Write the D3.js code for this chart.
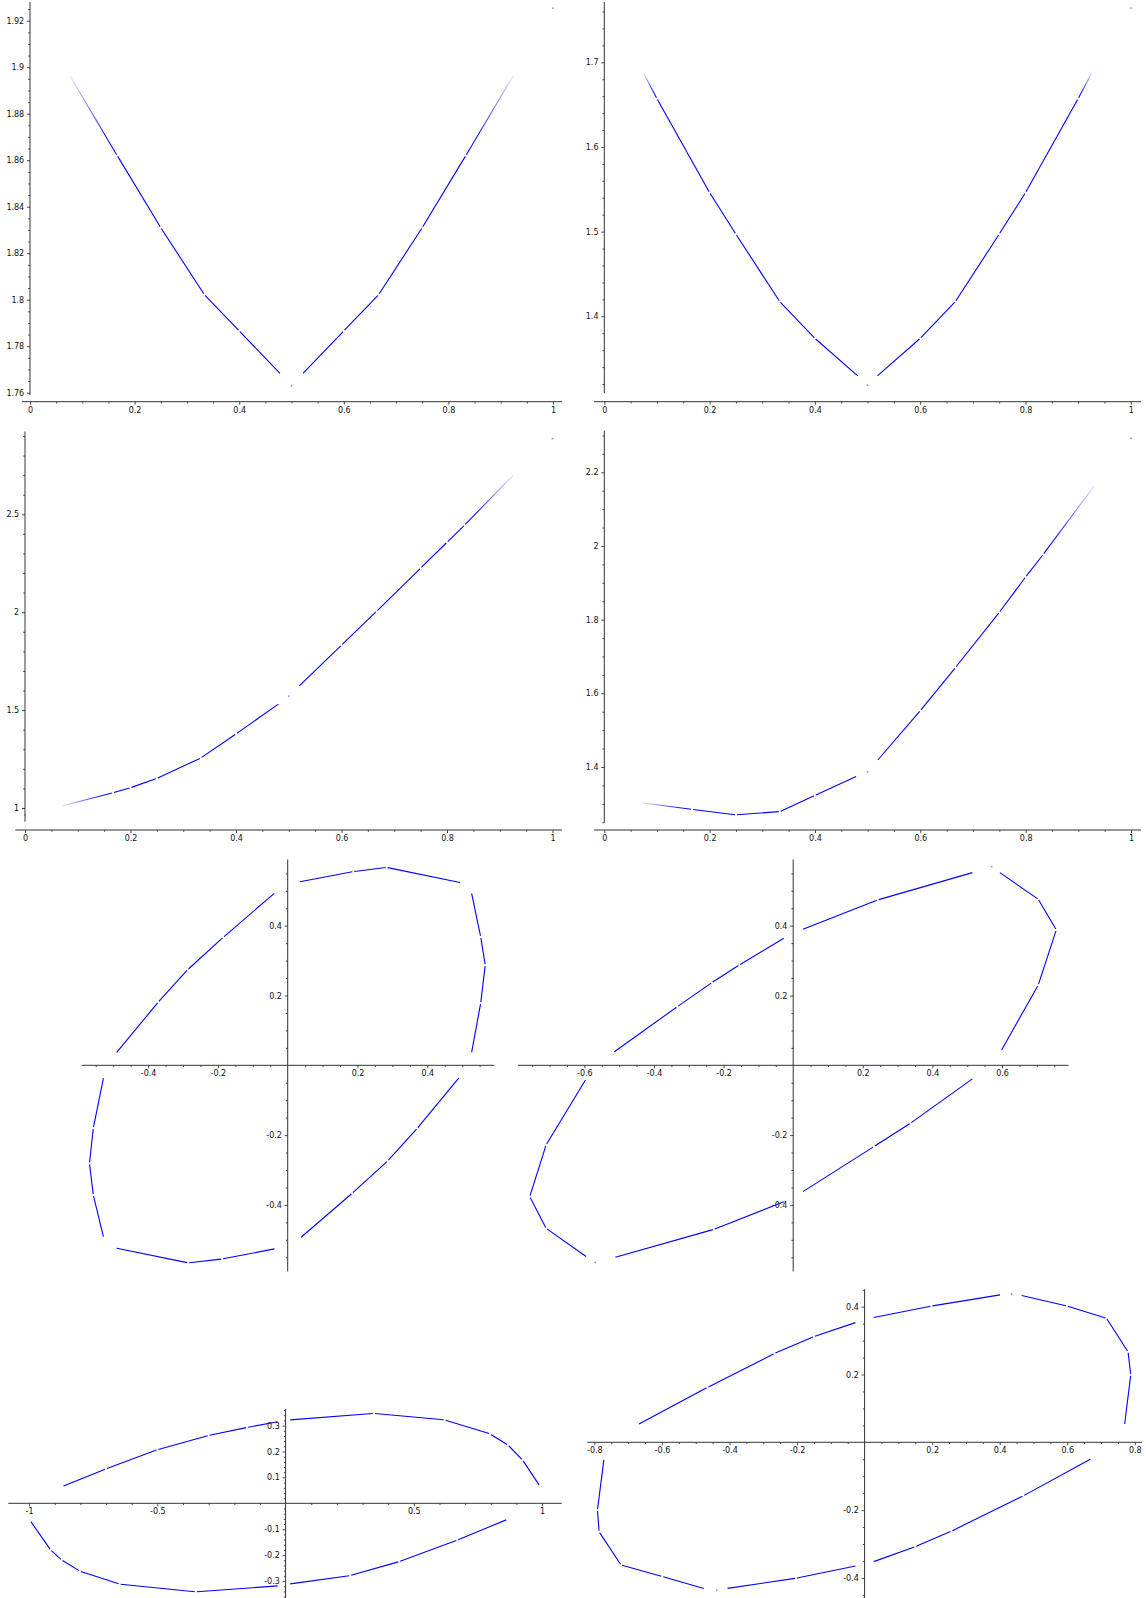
<!DOCTYPE html>
<html>
<head>
<meta charset="utf-8">
<script src="https://cdn.jsdelivr.net/npm/d3@7"></script>
<style>
	body { margin: 0; background: #fff; }
	svg { display: block; }
</style>
</head>
<body>
<svg id="chart"></svg>
<script>
// ---- tick labels ----
const ticks01 = [0, 0.2, 0.4, 0.6, 0.8, 1];
const p1YTicks = [1.76, 1.78, 1.8, 1.82, 1.84, 1.86, 1.88, 1.9, 1.92];
const p2YTicks = [1.4, 1.5, 1.6, 1.7];
const p3YTicks = [1, 1.5, 2, 2.5];
const p4YTicks = [1.4, 1.6, 1.8, 2, 2.2];
const ticksPm04 = [-0.4, -0.2, 0.2, 0.4];
const ticksPm06 = [-0.6, -0.4, -0.2, 0.2, 0.4, 0.6];
const ticksPm08 = [-0.8, -0.6, -0.4, -0.2, 0.2, 0.4, 0.6, 0.8];
const p7XTicks = [-1, -0.5, 0.5, 1];
const p7YTicks = [-0.3, -0.2, -0.1, 0.1, 0.2, 0.3];

// ---- curves: each panel is a list of branches, each branch a list of [x, y] ----
const p1Branches = [
	[[0.0765, 1.8962], [0.1667, 1.862], [0.25, 1.831], [0.3333, 1.8022], [0.4, 1.7866], [0.478, 1.7683]],
	[[0.522, 1.7683], [0.6, 1.7866], [0.6667, 1.8022], [0.75, 1.831], [0.8333, 1.862], [0.9235, 1.8962]],
];
const p1Dots = [[0.5, 1.763], [1, 1.9254]];

const p2Branches = [
	[[0.074, 1.6877], [0.1, 1.657], [0.2, 1.546], [0.25, 1.497], [0.3333, 1.4173], [0.4, 1.374], [0.4813, 1.3296]],
	[[0.5187, 1.3296], [0.6, 1.374], [0.6667, 1.4173], [0.75, 1.497], [0.8, 1.546], [0.9, 1.657], [0.926, 1.6877]],
];
const p2Dots = [[0.5, 1.3186], [1, 1.764]];

const p3Branches = [
	[[0.0714, 1.0117], [0.1667, 1.078], [0.2, 1.1036], [0.25, 1.1515], [0.3333, 1.2555], [0.4, 1.378], [0.4803, 1.5306]],
	[[0.52, 1.624], [0.6, 1.832], [0.6667, 2.005], [0.75, 2.225], [0.8, 2.357], [0.8333, 2.445], [0.925, 2.698]],
];
const p3Dots = [[0, 0.964], [0.5, 1.571], [1, 2.886]];

const p4Branches = [
	[[0.071, 1.303], [0.1667, 1.285], [0.25, 1.27], [0.3333, 1.279], [0.4, 1.323], [0.478, 1.374]],
	[[0.5193, 1.419], [0.6, 1.553], [0.6667, 1.67], [0.75, 1.82], [0.8, 1.916], [0.8333, 1.977], [0.929, 2.161]],
];
const p4Dots = [[0.5, 1.387], [1, 2.292]];

const p5Branches = [
	[[-0.49, 0.037], [-0.371, 0.181], [-0.2866, 0.274], [-0.1845, 0.3668], [-0.0383, 0.4928]],
	[[0.0352, 0.526], [0.188, 0.555], [0.2836, 0.567], [0.4937, 0.524]],
	[[0.527, 0.4928], [0.553, 0.368], [0.566, 0.287], [0.553, 0.178], [0.527, 0.037]],
	[[0.49, -0.037], [0.371, -0.181], [0.2866, -0.274], [0.1845, -0.3668], [0.0383, -0.4928]],
	[[-0.038, -0.526], [-0.188, -0.555], [-0.285, -0.566], [-0.49, -0.524]],
	[[-0.528, -0.491], [-0.557, -0.372], [-0.568, -0.281], [-0.557, -0.18], [-0.528, -0.037]],
];
const p5Dots = [];

const p6Branches = [
	[[-0.514, 0.039], [-0.333, 0.168], [-0.2335, 0.237], [-0.155, 0.2875], [-0.027, 0.364]],
	[[0.028, 0.39], [0.243, 0.474], [0.515, 0.552]],
	[[0.594, 0.552], [0.704, 0.476], [0.756, 0.388], [0.704, 0.23], [0.599, 0.044]],
	[[0.515, -0.039], [0.337, -0.166], [0.232, -0.233], [0.028, -0.362]],
	[[-0.027, -0.391], [-0.228, -0.47], [-0.511, -0.55]],
	[[-0.595, -0.548], [-0.71, -0.467], [-0.757, -0.376], [-0.71, -0.228], [-0.597, -0.042]],
];
const p6Dots = [[0.57, 0.569], [-0.569, -0.565]];

const p7Branches = [
	[[-0.866, 0.067], [-0.7, 0.133], [-0.5, 0.207], [-0.3, 0.262], [-0.15, 0.293], [-0.031, 0.315]],
	[[0.018, 0.322], [0.344, 0.347], [0.62, 0.322], [0.797, 0.268], [0.867, 0.225], [0.924, 0.167], [0.988, 0.071]],
	[[0.86, -0.064], [0.669, -0.142], [0.443, -0.225], [0.252, -0.279], [0.018, -0.311]],
	[[-0.993, -0.071], [-0.916, -0.18], [-0.873, -0.219], [-0.802, -0.262], [-0.647, -0.312], [-0.35, -0.342], [-0.031, -0.319]],
];
const p7Dots = [];

const p8Branches = [
	[[-0.668, 0.054], [-0.465, 0.162], [-0.267, 0.262], [-0.15, 0.312], [-0.027, 0.353]],
	[[0.027, 0.368], [0.198, 0.402], [0.401, 0.435]],
	[[0.465, 0.433], [0.599, 0.402], [0.716, 0.366], [0.78, 0.267], [0.788, 0.199], [0.77, 0.054]],
	[[0.668, -0.05], [0.47, -0.158], [0.257, -0.262], [0.15, -0.308], [0.027, -0.352]],
	[[-0.027, -0.365], [-0.203, -0.401], [-0.406, -0.431]],
	[[-0.476, -0.431], [-0.599, -0.396], [-0.721, -0.362], [-0.786, -0.264], [-0.791, -0.2], [-0.772, -0.052]],
];
const p8Dots = [[0.435, 0.4375], [-0.438, -0.436]];

const WIDTH = 1146;
const HEIGHT = 1598;
const AXIS_COLOR = "#333";
const LINE_COLOR = "#0000ff";
const GAP = 1.0;

class SagePanel {
	constructor(svg, spec) {
		this.svg = svg;
		this.spec = spec;
		this.g = svg.append("g");
		this.x = d3.scaleLinear().domain(spec.xDomain).range(spec.xRange);
		this.y = d3.scaleLinear().domain(spec.yDomain).range(spec.yRange);
	}

	fmt(v) {
		return String(+v.toFixed(4));
	}

	minorTicks(scale, span, step, majors) {
		const a = scale.invert(span[0]);
		const b = scale.invert(span[1]);
		const lo = Math.min(a, b);
		const hi = Math.max(a, b);
		const out = [];
		for (let k = Math.ceil(lo / step); k * step <= hi; k++) {
			const v = +(k * step).toFixed(6);
			if (majors.some((m) => Math.abs(m - v) < 1e-9)) continue;
			if (this.spec.cross && Math.abs(v) < 1e-9) continue;
			out.push(v);
		}
		return out;
	}

	styleAxis(sel) {
		sel.select(".domain").remove();
		sel.attr("font-family", "DejaVu Sans").attr("font-size", 8);
		sel.selectAll("line").attr("stroke", AXIS_COLOR).attr("stroke-width", 0.9);
		sel.selectAll("text").attr("fill", "#111");
	}

	drawAxes() {
		const s = this.spec;
		// axis lines
		this.g
			.append("line")
			.attr("x1", s.xSpan[0])
			.attr("x2", s.xSpan[1])
			.attr("y1", s.xAxisY)
			.attr("y2", s.xAxisY)
			.attr("stroke", AXIS_COLOR)
			.attr("stroke-width", 1);
		this.g
			.append("line")
			.attr("x1", s.yAxisX)
			.attr("x2", s.yAxisX)
			.attr("y1", s.ySpan[0])
			.attr("y2", s.ySpan[1])
			.attr("stroke", AXIS_COLOR)
			.attr("stroke-width", 1);

		const xMinor = this.minorTicks(this.x, s.xSpan, s.xMinor, s.xTicks);
		const yMinor = this.minorTicks(this.y, s.ySpan, s.yMinor, s.yTicks);

		this.g
			.append("g")
			.attr("transform", `translate(0,${s.xAxisY})`)
			.call(d3.axisBottom(this.x).tickValues(xMinor).tickSize(1.8).tickFormat(""))
			.call((g) => this.styleAxis(g));
		this.g
			.append("g")
			.attr("transform", `translate(0,${s.xAxisY})`)
			.call(
				d3
					.axisBottom(this.x)
					.tickValues(s.xTicks)
					.tickSize(3)
					.tickPadding(2.2)
					.tickFormat((v) => this.fmt(v))
			)
			.call((g) => this.styleAxis(g));

		this.g
			.append("g")
			.attr("transform", `translate(${s.yAxisX},0)`)
			.call(d3.axisLeft(this.y).tickValues(yMinor).tickSize(1.8).tickFormat(""))
			.call((g) => this.styleAxis(g));
		this.g
			.append("g")
			.attr("transform", `translate(${s.yAxisX},0)`)
			.call(
				d3
					.axisLeft(this.y)
					.tickValues(s.yTicks)
					.tickSize(3)
					.tickPadding(2.8)
					.tickFormat((v) => this.fmt(v))
			)
			.call((g) => this.styleAxis(g));
	}

	fadeGradient(p0, p1, id) {
		const grad = this.svg
			.select("defs")
			.append("linearGradient")
			.attr("id", id)
			.attr("gradientUnits", "userSpaceOnUse")
			.attr("x1", p0[0])
			.attr("y1", p0[1])
			.attr("x2", p1[0])
			.attr("y2", p1[1]);
		grad.append("stop").attr("offset", 0).attr("stop-color", LINE_COLOR).attr("stop-opacity", 0.1);
		grad.append("stop").attr("offset", 0.75).attr("stop-color", LINE_COLOR).attr("stop-opacity", 0.9);
		grad.append("stop").attr("offset", 1).attr("stop-color", LINE_COLOR).attr("stop-opacity", 1);
	}

	drawBranch(branch, bi) {
		const px = branch.map(([a, b]) => [this.x(a), this.y(b)]);
		const n = px.length;
		for (let i = 0; i < n - 1; i++) {
			const [x1, y1] = px[i];
			const [x2, y2] = px[i + 1];
			const len = Math.hypot(x2 - x1, y2 - y1);
			const ux = (x2 - x1) / len;
			const uy = (y2 - y1) / len;
			const g1 = i > 0 ? GAP : 0;
			const g2 = i < n - 2 ? GAP : 0;
			const a = [x1 + ux * g1, y1 + uy * g1];
			const b = [x2 - ux * g2, y2 - uy * g2];

			let stroke = LINE_COLOR;
			if (this.spec.fade) {
				const id = `fade-${this.spec.id}-${bi}-${i}`;
				if (i === 0 && branch[0][0] < 0.1) {
					this.fadeGradient(a, b, id);
					stroke = `url(#${id})`;
				} else if (i === n - 2 && branch[n - 1][0] > 0.9) {
					this.fadeGradient(b, a, id);
					stroke = `url(#${id})`;
				}
			}

			this.g
				.append("line")
				.attr("x1", a[0])
				.attr("y1", a[1])
				.attr("x2", b[0])
				.attr("y2", b[1])
				.attr("stroke", stroke)
				.attr("stroke-width", 1.1)
				.attr("stroke-linecap", "butt");
		}
	}

	draw(branches, dots) {
		this.drawAxes();
		branches.forEach((br, i) => this.drawBranch(br, i));
		this.g
			.selectAll("circle.dot")
			.data(dots)
			.join("circle")
			.attr("class", "dot")
			.attr("cx", (d) => this.x(d[0]))
			.attr("cy", (d) => this.y(d[1]))
			.attr("r", 0.9)
			.attr("fill", LINE_COLOR)
			.attr("fill-opacity", 0.45);
	}
}

const svg = d3.select("#chart").attr("width", WIDTH).attr("height", HEIGHT);
svg.append("rect").attr("width", WIDTH).attr("height", HEIGHT).attr("fill", "#fff");
svg.append("defs");

const panels = [
	{
		id: 1, fade: true,
		xDomain: [0, 1], xRange: [30, 553],
		yDomain: [1.76, 1.92], yRange: [392.7, 20.7],
		xAxisY: 401.7, xSpan: [22, 562], yAxisX: 30, ySpan: [2, 395],
		xTicks: ticks01, xMinor: 0.05, yTicks: p1YTicks, yMinor: 0.005,
		branches: p1Branches, dots: p1Dots,
	},
	{
		id: 2, fade: true,
		xDomain: [0, 1], xRange: [604.3, 1130.8],
		yDomain: [1.4, 1.7], yRange: [316.3, 62.3],
		xAxisY: 401.7, xSpan: [594, 1141], yAxisX: 604.3, ySpan: [2, 393],
		xTicks: ticks01, xMinor: 0.05, yTicks: p2YTicks, yMinor: 0.02,
		branches: p2Branches, dots: p2Dots,
	},
	{
		id: 3, fade: true,
		xDomain: [0, 1], xRange: [25, 552.5],
		yDomain: [1, 2.5], yRange: [808, 514.3],
		xAxisY: 830, xSpan: [15.3, 562], yAxisX: 25, ySpan: [431.5, 821.7],
		xTicks: ticks01, xMinor: 0.05, yTicks: p3YTicks, yMinor: 0.1,
		branches: p3Branches, dots: p3Dots,
	},
	{
		id: 4, fade: true,
		xDomain: [0, 1], xRange: [604.3, 1131],
		yDomain: [1.4, 2.2], yRange: [767, 472.3],
		xAxisY: 830, xSpan: [594, 1141], yAxisX: 604.3, ySpan: [430.7, 822.7],
		xTicks: ticks01, xMinor: 0.05, yTicks: p4YTicks, yMinor: 0.05,
		branches: p4Branches, dots: p4Dots,
	},
	{
		id: 5, cross: true,
		xDomain: [0, 1], xRange: [287.7, 287.7 + 349],
		yDomain: [0, 1], yRange: [1065.3, 1065.3 - 349],
		xAxisY: 1065.3, xSpan: [81.7, 494.3], yAxisX: 287.7, ySpan: [859.5, 1271.4],
		xTicks: ticksPm04, xMinor: 0.05, yTicks: ticksPm04, yMinor: 0.05,
		branches: p5Branches, dots: p5Dots,
	},
	{
		id: 6, cross: true,
		xDomain: [0, 1], xRange: [793.2, 793.2 + 348],
		yDomain: [0, 1], yRange: [1065.3, 1065.3 - 349],
		xAxisY: 1065.3, xSpan: [518, 1068.5], yAxisX: 793.2, ySpan: [859.5, 1271.4],
		xTicks: ticksPm06, xMinor: 0.05, yTicks: ticksPm04, yMinor: 0.05,
		branches: p6Branches, dots: p6Dots,
	},
	{
		id: 7, cross: true,
		xDomain: [0, 1], xRange: [285.6, 285.6 + 256.5],
		yDomain: [0, 1], yRange: [1503.3, 1503.3 - 259],
		xAxisY: 1503.3, xSpan: [8.2, 561.8], yAxisX: 285.6, ySpan: [1409, 1600],
		xTicks: p7XTicks, xMinor: 0.1, yTicks: p7YTicks, yMinor: 0.02,
		branches: p7Branches, dots: p7Dots,
	},
	{
		id: 8, cross: true,
		xDomain: [0, 1], xRange: [864.6, 864.6 + 337.75],
		yDomain: [0, 1], yRange: [1442.3, 1442.3 - 339],
		xAxisY: 1442.3, xSpan: [587.3, 1142], yAxisX: 864.6, ySpan: [1289.3, 1600],
		xTicks: ticksPm08, xMinor: 0.05, yTicks: ticksPm04, yMinor: 0.05,
		branches: p8Branches, dots: p8Dots,
	},
];

panels.forEach((spec) => {
	const panel = new SagePanel(svg, spec);
	panel.draw(spec.branches, spec.dots);
});
</script>
</body>
</html>
